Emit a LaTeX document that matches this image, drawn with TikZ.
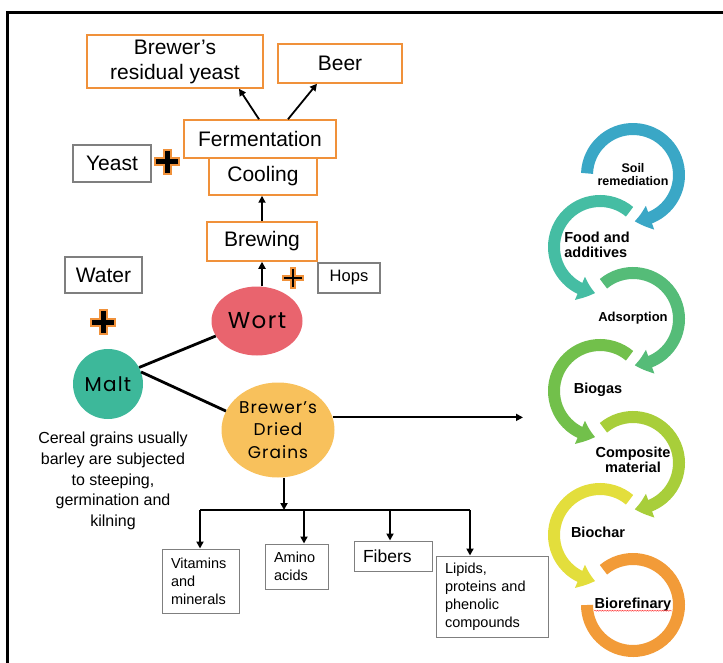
\documentclass[tikz,border=0pt]{standalone}
\usepackage{fontspec}
\setmainfont{Liberation Sans}
\newfontfamily\roundfont[LetterSpace=6]{Poppins}
\usetikzlibrary{arrows.meta,bending,shapes.geometric,decorations.pathmorphing}
\definecolor{boxorange}{HTML}{F0913A}
\definecolor{addgray}{HTML}{7F7F7F}
\definecolor{maltc}{HTML}{3DB89A}
\definecolor{wortc}{HTML}{E9646E}
\definecolor{grainc}{HTML}{F8C15C}
\definecolor{soilc}{HTML}{3AA7C6}
\definecolor{foodc}{HTML}{45BDA3}
\definecolor{adsc}{HTML}{55BC78}
\definecolor{biogasc}{HTML}{72C04B}
\definecolor{compc}{HTML}{A8CE3A}
\definecolor{charc}{HTML}{E3DE3C}
\definecolor{refinec}{HTML}{F29B38}
\begin{document}
\begin{tikzpicture}[x=1pt, y=-1pt,
    stepbox/.style={draw=boxorange, line width=1.5pt, fill=white, inner sep=0pt, align=center,
      font=\fontsize{21}{25}\selectfont},
    addbox/.style={draw=addgray, line width=1.3pt, inner sep=0pt, font=\fontsize{21}{25}\selectfont},
    partbox/.style={draw=addgray, line width=1pt, inner xsep=9pt, inner ysep=0pt, align=left,
      font=\fontsize{14.5}{18}\selectfont},
    blob/.style={inner sep=-15pt, align=center, font=\roundfont\fontsize{17}{22.5}\selectfont},
    flow/.style={-{Triangle[length=7pt,width=7pt]}, line width=1.8pt},
    link/.style={line width=2.8pt},
    uselabel/.style={font=\bfseries\fontsize{14.5}{15}\selectfont, align=center},
    ring/.style={line width=12pt}]
  \useasboundingbox (0,0) rectangle (723,663);
  \draw[line width=3pt] (7.5,663) -- (7.5,12.5) -- (723,12.5);

  \node[stepbox, minimum width=176pt, minimum height=53pt] (resid) at (175,61.5) {Brewer’s\\residual yeast};
  \node[stepbox, minimum width=124pt, minimum height=39pt] (beer) at (340,63.5) {Beer};
  \node[stepbox, minimum width=152pt, minimum height=38pt] (ferm) at (260,139) {Fermentation};
  \node[stepbox, minimum width=108pt, minimum height=37pt] (cool) at (263,176.5) {Cooling};
  \node[stepbox, minimum width=110pt, minimum height=39pt] (brew) at (262,241.5) {Brewing};
  \node[addbox, minimum width=78pt, minimum height=37pt] (yeast) at (112,163.5) {Yeast};
  \node[addbox, minimum width=77pt, minimum height=36pt] (water) at (103.5,275) {Water};
  \node[addbox, minimum width=62pt, minimum height=30pt, font=\fontsize{16.5}{20}\selectfont] (hops) at (349,278) {Hops};

  \node[blob, ellipse, fill=wortc, minimum width=91pt, minimum height=69pt,
    font=\roundfont\fontsize{23}{26}\selectfont] (wort) at (257,321) {Wort};
  \node[blob, circle, fill=maltc, minimum size=70pt,
    font=\roundfont\fontsize{20}{24}\selectfont] (malt) at (108,384) {Malt};
  \node[blob, ellipse, fill=grainc, minimum width=113pt, minimum height=95pt] (bdg) at (278,430) {Brewer’s\\Dried\\Grains};
  \node[align=center, font=\fontsize{16}{20.7}\selectfont] (grains) at (113,481)
    {Cereal grains usually\\barley are subjected\\to steeping,\\germination and\\kilning};

  \node[partbox, text width=59pt, minimum height=64pt] (vit) at (200.5,581) {Vitamins\\and\\minerals};
  \node[partbox, text width=45pt, minimum height=45pt] (amino) at (296.5,566.5) {Amino\\acids};
  \node[partbox, text width=60pt, minimum height=30pt, font=\fontsize{17.5}{20}\selectfont] (fib) at (393,556) {Fibers};
  \node[partbox, text width=94pt, minimum height=81pt] (lip) at (492,596.5) {Lipids,\\proteins and\\phenolic\\compounds};

  \draw[flow] ([xshift=-1pt]ferm.north) -- ([xshift=64pt]resid.south);
  \draw[flow] ([xshift=28pt]ferm.north) -- ([xshift=-23pt]beer.south);
  \draw[flow] (brew.north) -- (brew.north |- cool.south);
  \draw[flow] (wort.north -| brew.south) -- (brew.south);
  \draw[link] (malt.28) -- (wort.200);
  \draw[link] (malt.20) -- (bdg.160);
  \coordinate (uses) at (523,419);
  \draw[flow] (bdg.13) -- (bdg.13 -| uses);
  \coordinate (bus) at (284,510);
  \draw[flow] (bdg.south -| bus) -- (bus);
  \draw[line width=1.8pt] (200,510) -- (470,510);
  \foreach \x/\n in {200/vit,304/amino,390/fib,470/lip}
    \draw[flow] (\x,510) -- (\x,510 |- \n.north);

  \foreach \px/\py in {167/162,103/322}{
    \draw[boxorange, line width=9pt] (\px-13,\py) -- (\px+13,\py) (\px,\py-13) -- (\px,\py+13);
    \draw[line width=5pt] (\px-11,\py) -- (\px+11,\py) (\px,\py-11) -- (\px,\py+11);}
  \draw[boxorange, line width=6pt] (282,278) -- (304,278) (293,267) -- (293,289);
  \draw[line width=1.5pt] (284,278) -- (302,278) (293,269) -- (293,287);

  \foreach \cx/\cy/\a/\b/\col in {633/175/-178/88/soilc, 600/247/-50/-264/foodc,
      633/319/-130/88/adsc, 600/391/-50/-264/biogasc, 633/463/-130/88/compc, 600/535/-50/-264/charc}
    \draw[ring, \col, -{Triangle[length=16pt,width=24pt,bend]}]
      (\cx,\cy) ++(\a:46) arc[start angle=\a, end angle=\b, radius=46];
  \draw[ring, refinec] (633,605) ++(-130:46) arc[start angle=-130, end angle=180, radius=46];

  \node[uselabel, font=\bfseries\fontsize{12.5}{13}\selectfont] (soil) at (633,175) {Soil\\remediation};
  \node[uselabel, align=left] (food) at (597,245) {Food and\\additives};
  \node[uselabel, font=\bfseries\fontsize{13}{14}\selectfont] (adsorb) at (633,318) {Adsorption};
  \node[uselabel] (biogas) at (598,390) {Biogas};
  \node[uselabel] (compos) at (633,460) {Composite\\material};
  \node[uselabel] (biochar) at (598,532) {Biochar};
  \node[uselabel] (biorefin) at (633,605) {Biorefinary};
  \draw[red!75, line width=0.5pt, decorate, decoration={snake, amplitude=0.5pt, segment length=2.5pt}]
    ([xshift=3pt,yshift=-2pt]biorefin.base west) -- ([xshift=-3pt,yshift=-2pt]biorefin.base east);
\end{tikzpicture}
\end{document}
